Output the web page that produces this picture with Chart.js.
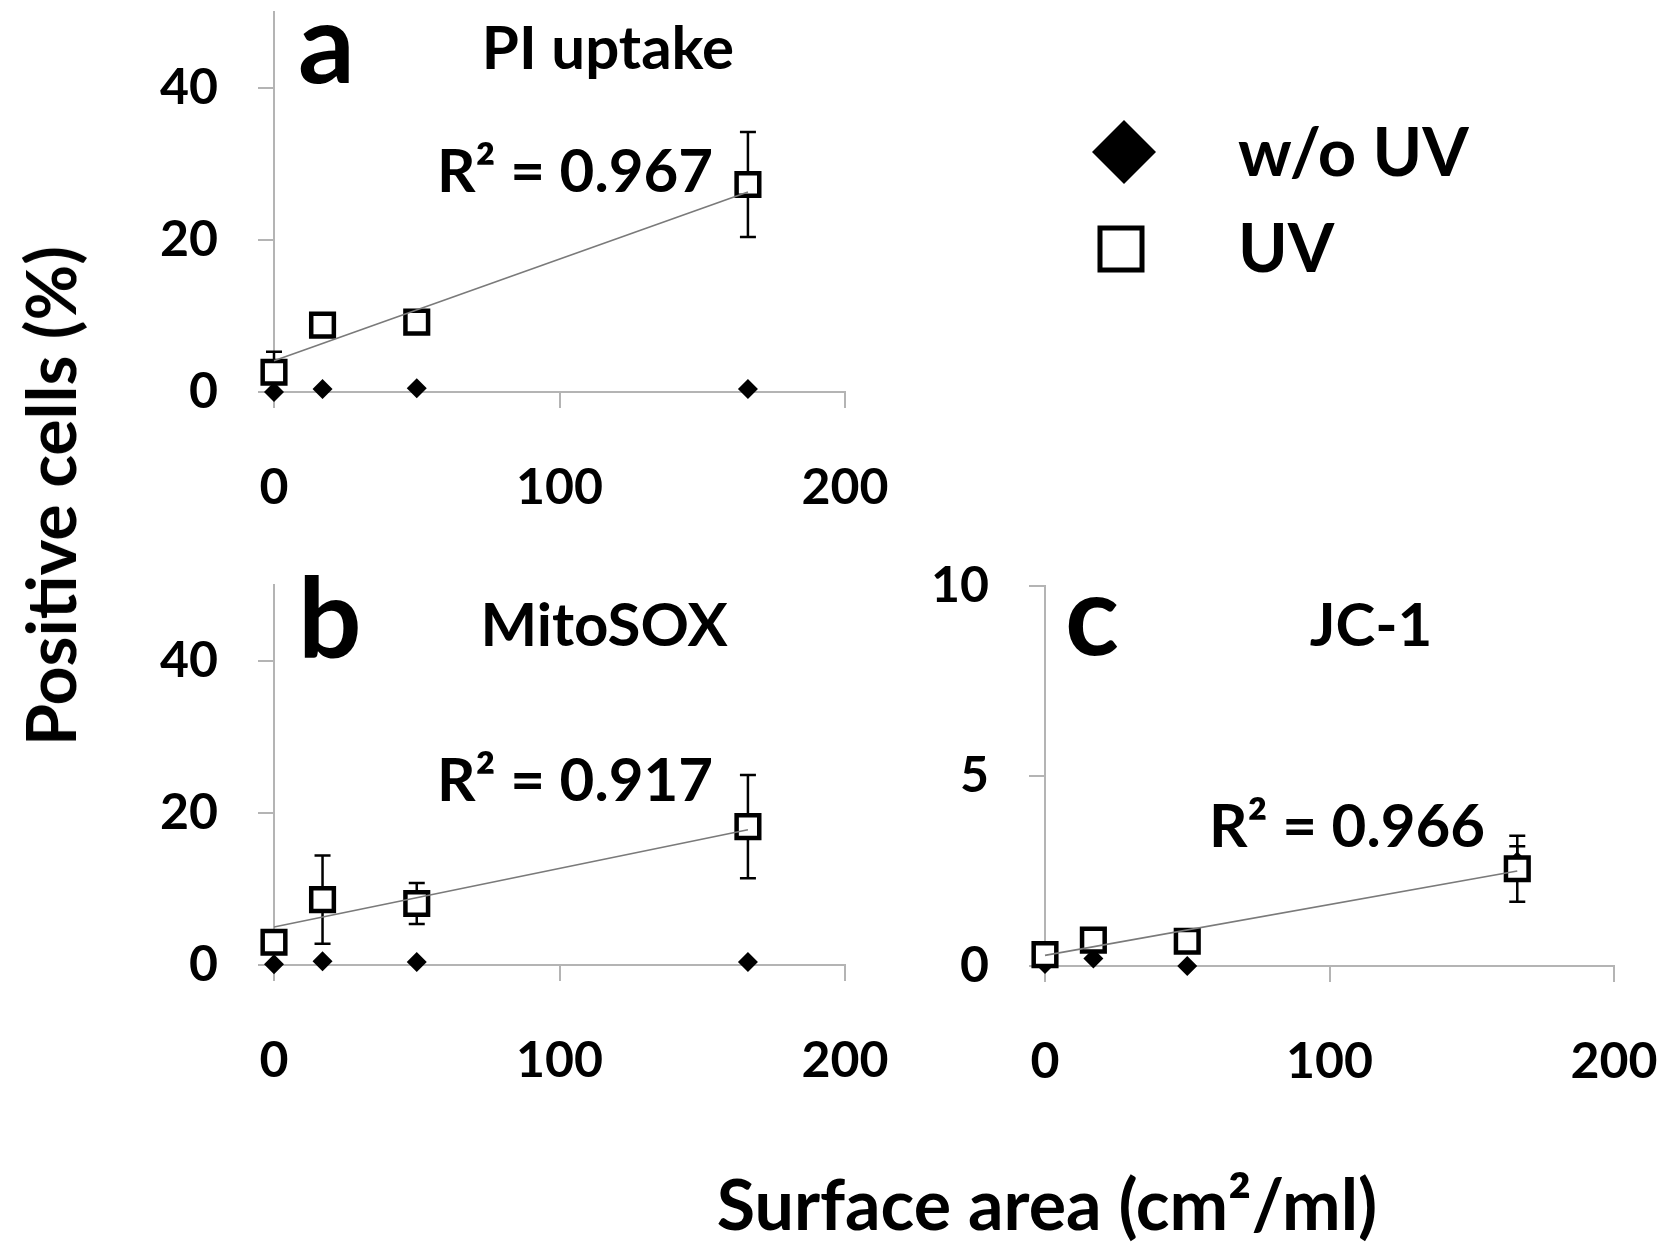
<!DOCTYPE html>
<html>
<head>
<meta charset="utf-8">
<script src="https://cdn.jsdelivr.net/npm/chart.js@4.4.1/dist/chart.umd.min.js"></script>
<style>
body { margin: 0; background: #fff; width: 1670px; height: 1249px; position: relative; overflow: hidden;
       font-family: Lato, "Open Sans", sans-serif; font-weight: bold; color: #000; }
canvas { position: absolute; left: -100px; top: -100px; }
.txt { position: absolute; white-space: nowrap; line-height: 1; }
</style>
</head>
<body>
<canvas id="chartA" width="1870" height="1449"></canvas>
<canvas id="chartB" width="1870" height="1449"></canvas>
<canvas id="chartC" width="1870" height="1449"></canvas>

<div class="txt" style="left:298px;top:-16px;font-size:112px">a</div>
<div class="txt" style="left:298px;top:559px;font-size:112px">b</div>
<div class="txt" style="left:1065px;top:556px;font-size:112px">c</div>

<div class="txt" style="left:608px;top:16px;font-size:60px;transform:translateX(-50%)">PI uptake</div>
<div class="txt" style="left:604px;top:593px;font-size:60px;transform:translateX(-50%)">MitoSOX</div>
<div class="txt" style="left:1371px;top:593px;font-size:60px;transform:translateX(-50%)">JC-1</div>

<div class="txt" style="left:437px;top:139px;font-size:60px">R² = 0.967</div>
<div class="txt" style="left:437px;top:748px;font-size:60px">R² = 0.917</div>
<div class="txt" style="left:1209px;top:794px;font-size:60px">R² = 0.966</div>

<div class="txt" id="leg0" style="left:1238px;top:117px;font-size:67px"></div>
<div class="txt" id="leg1" style="left:1238px;top:213px;font-size:67px"></div>

<div class="txt" style="left:1047px;top:1168px;font-size:70px;transform:translateX(-50%)">Surface area (cm²/ml)</div>
<div class="txt" style="left:50px;top:496px;font-size:68px;transform:translate(-50%,-50%) rotate(-90deg)">Positive cells (%)</div>

<script>
// surface area (cm2/ml)
var xValues = [0, 17, 50, 166];
var trendX = [0, 166];
var seriesNames = ['w/o UV', 'UV'];
var xTicks = [0, 100, 200];

// a: PI uptake
var piNoUV = [0.0, 0.4, 0.5, 0.4];
var piNoUVErr = [0, 0, 0, 0];
var piUV = [2.6, 8.8, 9.2, 27.3];
var piUVErr = [2.7, 0.8, 0.8, 6.9];
var piTrend = [4.1, 26.3];

// b: MitoSOX
var mitoNoUV = [0.1, 0.5, 0.4, 0.4];
var mitoNoUVErr = [0, 0, 0, 0];
var mitoUV = [3.0, 8.6, 8.1, 18.2];
var mitoUVErr = [1.0, 5.8, 2.7, 6.8];
var mitoTrend = [5.0, 17.8];

// c: JC-1
var jcNoUV = [0.05, 0.2, 0.0, 2.75];
var jcNoUVErr = [0, 0, 0, 0.4];
var jcUV = [0.30, 0.68, 0.65, 2.56];
var jcUVErr = [0.1, 0.1, 0.1, 0.87];
var jcTrend = [0.28, 2.5];

document.getElementById('leg0').textContent = seriesNames[0];
document.getElementById('leg1').textContent = seriesNames[1];

var OFF = 100;  // canvases sit 100px up and left of the page
var axisColor = '#b4b4b4';
var tickFont = {family: 'Lato', weight: 'bold', size: 50};

var errorBarPlugin = {
    id: 'errorBars',
    beforeDatasetsDraw: function(chart) {
        var ctx = chart.ctx;
        var xs = chart.scales.x, ys = chart.scales.y;
        ctx.save();
        ctx.strokeStyle = '#000';
        ctx.lineWidth = 2.5;
        chart.data.datasets.forEach(function(ds) {
            if (!ds.errorBars) return;
            ds.data.forEach(function(p, i) {
                var e = ds.errorBars[i];
                if (!e) return;
                var px = xs.getPixelForValue(p.x);
                var top = ys.getPixelForValue(p.y + e);
                var bot = ys.getPixelForValue(p.y - e);
                ctx.beginPath();
                ctx.moveTo(px, top); ctx.lineTo(px, bot);
                ctx.moveTo(px - 8, top); ctx.lineTo(px + 8, top);
                ctx.moveTo(px - 8, bot); ctx.lineTo(px + 8, bot);
                ctx.stroke();
            });
        });
        ctx.restore();
    }
};

var legendPlugin = {
    id: 'legendMarks',
    afterDraw: function(chart) {
        var ctx = chart.ctx;
        ctx.save();
        ctx.translate(OFF, OFF);
        // diamond (w/o UV)
        ctx.fillStyle = '#000';
        ctx.beginPath();
        ctx.moveTo(1124, 120); ctx.lineTo(1156, 152); ctx.lineTo(1124, 184); ctx.lineTo(1092, 152);
        ctx.closePath();
        ctx.fill();
        // square (UV)
        ctx.strokeStyle = '#000';
        ctx.lineWidth = 5;
        ctx.fillStyle = '#fff';
        ctx.fillRect(1100, 228, 42, 42);
        ctx.strokeRect(1100, 228, 42, 42);
        ctx.restore();
    }
};

function makePanel(id, box, yMax, yTicks, noUV, noUVErr, uv, uvErr, trend, extraPlugins) {
    var ctx = document.getElementById(id).getContext('2d');
    var cw = ctx.canvas.width, ch = ctx.canvas.height;
    var yW = 200, xH = 160;
    return new Chart(ctx, {
        type: 'scatter',
        data: {
            datasets: [{
                label: 'trend',
                data: trendX.map(function(x, i) { return {x: x, y: trend[i]}; }),
                showLine: true,
                borderColor: '#7a7a7a',
                borderWidth: 1.6,
                pointRadius: 0,
                clip: false
            }, {
                label: seriesNames[1],
                data: xValues.map(function(x, i) { return {x: x, y: uv[i]}; }),
                errorBars: uvErr,
                pointStyle: 'rect',
                pointRadius: 16,
                backgroundColor: '#fff',
                borderColor: '#000',
                borderWidth: 4.5,
                clip: false
            }, {
                label: seriesNames[0],
                data: xValues.map(function(x, i) { return {x: x, y: noUV[i]}; }),
                errorBars: noUVErr,
                pointStyle: 'rectRot',
                pointRadius: 10,
                backgroundColor: '#000',
                borderColor: '#000',
                borderWidth: 0,
                clip: false
            }]
        },
        options: {
            responsive: false,
            animation: false,
            layout: {
                padding: {
                    left: box.left + OFF - yW,
                    top: box.top + OFF,
                    right: cw - (box.right + OFF),
                    bottom: ch - (box.bottom + OFF) - xH
                }
            },
            plugins: {legend: {display: false}, tooltip: {enabled: false}},
            scales: {
                x: {
                    type: 'linear', min: 0, max: 200,
                    afterBuildTicks: function(s) { s.ticks = xTicks.map(function(v) { return {value: v}; }); },
                    afterFit: function(s) { s.height = xH; },
                    grid: {drawOnChartArea: false, tickLength: 16, color: axisColor, lineWidth: 2},
                    border: {color: axisColor, width: 2},
                    ticks: {font: tickFont, color: '#000', padding: 50, maxRotation: 0}
                },
                y: {
                    type: 'linear', min: 0, max: yMax,
                    afterBuildTicks: function(s) { s.ticks = yTicks.map(function(v) { return {value: v}; }); },
                    afterFit: function(s) { s.width = yW; },
                    grid: {drawOnChartArea: false, tickLength: 16, color: axisColor, lineWidth: 2},
                    border: {color: axisColor, width: 2},
                    ticks: {font: tickFont, color: '#000', padding: 40}
                }
            }
        },
        plugins: [errorBarPlugin].concat(extraPlugins || [])
    });
}

makePanel('chartA', {left: 274, right: 845, top: 12, bottom: 392}, 50, [0, 20, 40],
    piNoUV, piNoUVErr, piUV, piUVErr, piTrend, [legendPlugin]);
makePanel('chartB', {left: 274, right: 845, top: 585, bottom: 965}, 50, [0, 20, 40],
    mitoNoUV, mitoNoUVErr, mitoUV, mitoUVErr, mitoTrend);
makePanel('chartC', {left: 1045, right: 1614, top: 586, bottom: 966}, 10, [0, 5, 10],
    jcNoUV, jcNoUVErr, jcUV, jcUVErr, jcTrend);
</script>
</body>
</html>
